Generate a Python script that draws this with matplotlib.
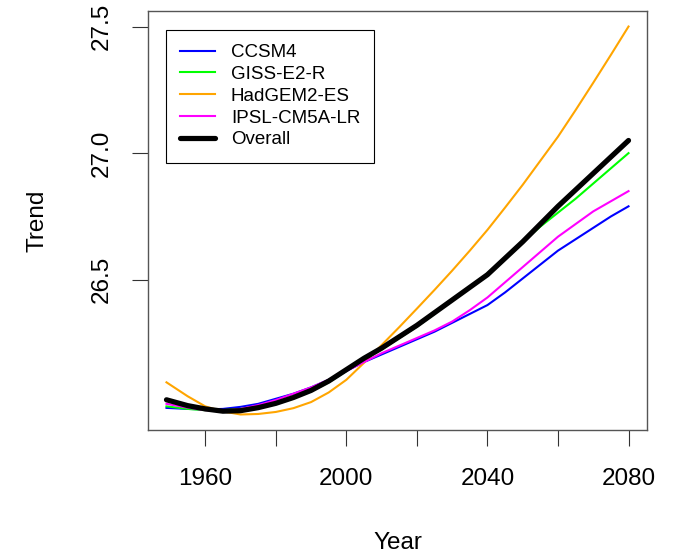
import matplotlib
matplotlib.use("Agg")
import matplotlib.pyplot as plt

# values
years = [1949, 1955, 1960, 1965, 1970, 1975, 1980, 1985, 1990, 1995, 2000, 2005, 2010,
         2015, 2020, 2025, 2030, 2035, 2040, 2045, 2050, 2055, 2060, 2065, 2070, 2075, 2080]

ccsm4 = [25.994, 25.990, 25.988, 25.990, 25.998, 26.010, 26.030, 26.050, 26.075, 26.105,
         26.140, 26.175, 26.205, 26.235, 26.265, 26.295, 26.330, 26.365, 26.400, 26.450,
         26.505, 26.560, 26.615, 26.660, 26.705, 26.750, 26.790]
giss = [26.000, 25.990, 25.985, 25.985, 25.990, 26.000, 26.015, 26.035, 26.060, 26.095,
        26.140, 26.185, 26.225, 26.270, 26.315, 26.365, 26.420, 26.470, 26.525, 26.585,
        26.650, 26.710, 26.765, 26.820, 26.880, 26.940, 27.000]
hadgem = [26.095, 26.040, 26.000, 25.980, 25.968, 25.970, 25.978, 25.993, 26.017, 26.055,
          26.105, 26.172, 26.242, 26.313, 26.386, 26.460, 26.536, 26.615, 26.697, 26.785,
          26.875, 26.970, 27.065, 27.170, 27.278, 27.388, 27.500]
ipsl = [26.010, 25.995, 25.985, 25.982, 25.990, 26.005, 26.025, 26.050, 26.075, 26.105,
        26.140, 26.175, 26.210, 26.240, 26.270, 26.300, 26.335, 26.380, 26.430, 26.490,
        26.550, 26.610, 26.670, 26.720, 26.770, 26.810, 26.850]
overall = [26.026, 26.003, 25.990, 25.981, 25.983, 25.995, 26.012, 26.035, 26.063, 26.100,
           26.145, 26.190, 26.230, 26.275, 26.320, 26.370, 26.420, 26.470, 26.520, 26.585,
           26.650, 26.720, 26.790, 26.855, 26.920, 26.985, 27.050]

labels = ["CCSM4", "GISS-E2-R", "HadGEM2-ES", "IPSL-CM5A-LR", "Overall"]
x_ticks = [1960, 1980, 2000, 2020, 2040, 2060, 2080]
x_ticklabels = ["1960", "", "2000", "", "2040", "", "2080"]
y_ticks = [26.5, 27.0, 27.5]

plt.rcParams["font.family"] = ["Liberation Sans", "DejaVu Sans"]

fig = plt.figure(figsize=(6.83, 5.56), dpi=100)
ax = fig.add_axes([148 / 683, 126 / 556, 499 / 683, 419 / 556])

ax.plot(years, ccsm4, color="#0000FF", lw=1.5, label=labels[0])
ax.plot(years, giss, color="#00FF00", lw=1.5, label=labels[1])
ax.plot(years, hadgem, color="#FFA500", lw=1.5, label=labels[2])
ax.plot(years, ipsl, color="#FF00FF", lw=1.5, label=labels[3])
ax.plot(years, overall, color="black", lw=3.75, solid_capstyle="round", label=labels[4])

ax.margins(0.04)

ax.set_xticks(x_ticks)
ax.set_xticklabels(x_ticklabels)
ax.set_yticks(y_ticks)
ax.set_yticklabels(["26.5", "27.0", "27.5"], rotation=90, va="center")
ax.tick_params(direction="out", length=11.5, width=0.8, color="#333333",
               labelsize=17.5, pad=16)
ax.tick_params(axis="y", pad=14)
for s in ax.spines.values():
    s.set_color("#555555")
    s.set_linewidth(1.0)

ax.set_xlabel("Year", fontsize=17.5, va="center")
ax.xaxis.set_label_coords(0.5, (430 - 543) / 419)
ax.set_ylabel("Trend", fontsize=17.5, va="center")
ax.yaxis.set_label_coords((37 - 148) / 499, 0.5)

leg = ax.legend(loc="upper left", bbox_to_anchor=((166 - 148) / 499, (430 - 30) / 419),
                borderaxespad=0, fontsize=13.5, fancybox=False, framealpha=1,
                edgecolor="black", handlelength=1.87, handletextpad=0.84,
                labelspacing=0.25, borderpad=0.75)
leg.get_frame().set_linewidth(0.8)

fig.savefig("out.png", dpi=100)
